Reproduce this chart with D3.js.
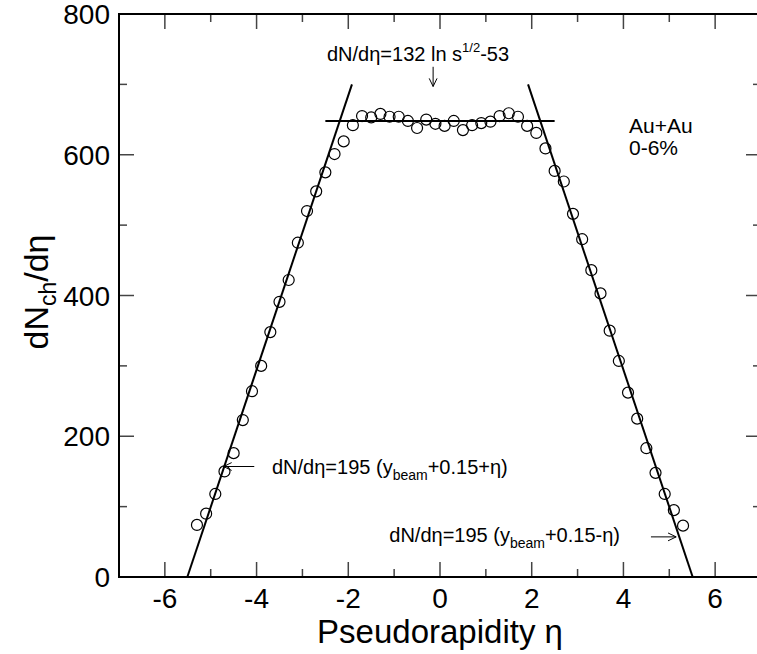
<!DOCTYPE html>
<html>
<head>
<meta charset="utf-8">
<script src="https://cdn.jsdelivr.net/npm/d3@7"></script>
<style>
  body { margin: 0; background: #fff; }
  text { font-family: "Liberation Sans", Arial, sans-serif; fill: #000; }
</style>
</head>
<body>
<div id="canvas"></div>
<script>
// measured points, Au+Au 0-6%
const eta = [-5.3, -5.1, -4.9, -4.7, -4.5, -4.3, -4.1, -3.9, -3.7, -3.5, -3.3, -3.1, -2.9, -2.7,
    -2.5, -2.3, -2.1, -1.9, -1.7, -1.5, -1.3, -1.1, -0.9, -0.7, -0.5, -0.3, -0.1,
    0.1, 0.3, 0.5, 0.7, 0.9, 1.1, 1.3, 1.5, 1.7, 1.9, 2.1, 2.3,
    2.5, 2.7, 2.9, 3.1, 3.3, 3.5, 3.7, 3.9, 4.1, 4.3, 4.5, 4.7, 4.9, 5.1, 5.3];
const dndeta = [74, 90, 118, 150, 176, 223, 264, 300, 348, 391, 422, 475, 520, 548,
    575, 601, 619, 642, 655, 653, 658, 654, 654, 648, 638, 650, 644,
    641, 648, 635, 642, 645, 647, 655, 659, 654, 641, 631, 609,
    577, 562, 516, 480, 436, 403, 350, 307, 262, 225, 183, 148, 118, 95, 73];

// fitted lines
const plateauLine = [[-2.5, 648], [2.5, 648]];
const leftSlope = [[-5.51, 0], [-1.92, 700]];
const rightSlope = [[1.92, 700], [5.51, 0]];

const xTicks = [-6, -4, -2, 0, 2, 4, 6];
const xMinor = [-7, -5, -3, -1, 1, 3, 5, 7];
const yTicks = [0, 200, 400, 600, 800];
const yMinor = [100, 300, 500, 700];

const W = 757, H = 654;
const margin = { top: 14, right: -4, bottom: 77, left: 119 };
const width = W - margin.left - margin.right,
    height = H - margin.top - margin.bottom;

const svg = d3.select("#canvas")
    .append("svg")
    .attr("width", W)
    .attr("height", H);

const g = svg.append("g")
    .attr("transform", `translate(${margin.left},${margin.top})`);

const x = d3.scaleLinear().domain([-7, 7]).range([0, width]);
const y = d3.scaleLinear().domain([0, 800]).range([height, 0]);

const tickCol = "#444";
// bottom / top ticks
function xTickMarks(vals, len) {
    g.append("g").selectAll("line").data(vals).join("line")
        .attr("x1", d => x(d)).attr("x2", d => x(d))
        .attr("y1", height).attr("y2", height - len)
        .attr("stroke", tickCol).attr("stroke-width", 1.5);
    g.append("g").selectAll("line").data(vals).join("line")
        .attr("x1", d => x(d)).attr("x2", d => x(d))
        .attr("y1", 0).attr("y2", len)
        .attr("stroke", tickCol).attr("stroke-width", 1.5);
}
xTickMarks(xTicks, 15);
xTickMarks(xMinor, 8);

function yTickMarks(vals, len) {
    g.append("g").selectAll("line").data(vals).join("line")
        .attr("x1", 0).attr("x2", len)
        .attr("y1", d => y(d)).attr("y2", d => y(d))
        .attr("stroke", tickCol).attr("stroke-width", 1.5);
    g.append("g").selectAll("line").data(vals).join("line")
        .attr("x1", width).attr("x2", width - len)
        .attr("y1", d => y(d)).attr("y2", d => y(d))
        .attr("stroke", tickCol).attr("stroke-width", 1.5);
}
yTickMarks(yTicks, 15);
yTickMarks(yMinor, 8);

// frame
g.append("rect")
    .attr("x", 0).attr("y", 0)
    .attr("width", width).attr("height", height)
    .attr("fill", "none").attr("stroke", "#000").attr("stroke-width", 2);

// tick labels
g.append("g").selectAll("text").data(xTicks).join("text")
    .attr("x", d => x(d)).attr("y", height + 31)
    .attr("text-anchor", "middle")
    .attr("font-size", 28)
    .text(d => d);
g.append("g").selectAll("text").data(yTicks).join("text")
    .attr("x", -9).attr("y", d => y(d) + 10)
    .attr("text-anchor", "end")
    .attr("font-size", 28)
    .text(d => d);

// axis titles
svg.append("text")
    .attr("x", 440).attr("y", 643)
    .attr("text-anchor", "middle")
    .attr("font-size", 33)
    .text("Pseudorapidity η");

const yt = svg.append("text")
    .attr("transform", "translate(48,292) rotate(-90)")
    .attr("text-anchor", "middle")
    .attr("font-size", 34);
yt.append("tspan").text("dN");
yt.append("tspan").attr("font-size", 23).attr("dy", 8).text("ch");
yt.append("tspan").attr("dy", -8).text("/dη");

// fit lines
const line = d3.line().x(d => x(d[0])).y(d => y(d[1]));
[plateauLine, leftSlope, rightSlope].forEach(l => {
    g.append("path").datum(l)
        .attr("d", line)
        .attr("fill", "none").attr("stroke", "#000").attr("stroke-width", 2);
});

// data points
g.append("g").selectAll("circle")
    .data(eta.map((e, i) => [e, dndeta[i]]))
    .join("circle")
    .attr("cx", d => x(d[0]))
    .attr("cy", d => y(d[1]))
    .attr("r", 5.5)
    .attr("fill", "none")
    .attr("stroke", "#000")
    .attr("stroke-width", 1.2);

// arrows
function arrow(x1, y1, x2, y2) {
    g.append("line")
        .attr("x1", x1).attr("y1", y1).attr("x2", x2).attr("y2", y2)
        .attr("stroke", "#000").attr("stroke-width", 1);
    const a = Math.atan2(y2 - y1, x2 - x1), L = 9, s = 0.45;
    g.append("path")
        .attr("d", `M${x2 - L * Math.cos(a - s)},${y2 - L * Math.sin(a - s)}L${x2},${y2}L${x2 - L * Math.cos(a + s)},${y2 - L * Math.sin(a + s)}`)
        .attr("fill", "none").attr("stroke", "#000").attr("stroke-width", 1);
}
arrow(x(-0.15), y(725), x(-0.15), y(697));
arrow(x(-4.05), y(157), x(-4.72), y(157));
arrow(x(4.6), y(57), x(5.15), y(57));

// annotations
const t1 = svg.append("text")
    .attr("x", 327).attr("y", 61)
    .attr("font-size", 20);
t1.append("tspan").text("dN/dη=132 ln s");
t1.append("tspan").attr("font-size", 13).attr("dy", -9).text("1/2");
t1.append("tspan").attr("dy", 9).text("-53");

const t2 = svg.append("text")
    .attr("x", 272).attr("y", 474)
    .attr("font-size", 20);
t2.append("tspan").text("dN/dη=195 (y");
t2.append("tspan").attr("font-size", 14).attr("dy", 6).text("beam");
t2.append("tspan").attr("dy", -6).text("+0.15+η)");

const t3 = svg.append("text")
    .attr("x", 620).attr("y", 542)
    .attr("text-anchor", "end")
    .attr("font-size", 20);
t3.append("tspan").text("dN/dη=195 (y");
t3.append("tspan").attr("font-size", 14).attr("dy", 6).text("beam");
t3.append("tspan").attr("dy", -6).text("+0.15-η)");

svg.append("text").attr("x", 629).attr("y", 133)
    .attr("font-size", 21).text("Au+Au");
svg.append("text").attr("x", 629).attr("y", 155)
    .attr("font-size", 21).text("0-6%");
</script>
</body>
</html>
